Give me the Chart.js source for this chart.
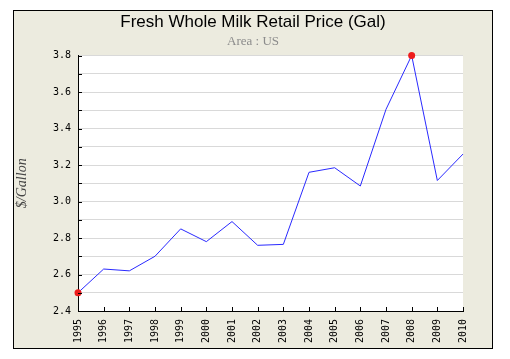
<!DOCTYPE html>
<html>
<head>
<meta charset="utf-8">
<script src="https://cdn.jsdelivr.net/npm/chart.js@4"></script>
<style>
html,body{margin:0;padding:0;background:#fff;}
#frame{position:absolute;left:13px;top:10px;width:478px;height:337px;border:1px solid #000;background:#ECEBDF;}
#frame canvas{display:block;}
</style>
</head>
<body>
<div id="frame"><canvas id="c" width="478" height="337"></canvas></div>
<script>
const years = ['1995','1996','1997','1998','1999','2000','2001','2002','2003','2004','2005','2006','2007','2008','2009','2010'];
const prices = [2.50, 2.63, 2.62, 2.70, 2.85, 2.78, 2.89, 2.76, 2.765, 3.16, 3.185, 3.085, 3.505, 3.80, 3.115, 3.26];
const yMin = 2.4, yMax = 3.8, yStep = 0.1;
const titleText = 'Fresh Whole Milk Retail Price (Gal)';
const subtitleText = 'Area : US';
const yTitle = '$/Gallon';

const maxV = Math.max(...prices), minV = Math.min(...prices);
const isExtreme = ctx => ctx.raw === maxV || ctx.raw === minV;

const areaBg = {
  id: 'areaBg',
  beforeDraw(chart) {
    const {ctx, chartArea: a} = chart;
    ctx.save();
    ctx.fillStyle = '#ffffff';
    ctx.fillRect(a.left, a.top, a.right - a.left, a.bottom - a.top);
    ctx.restore();
  }
};
const innerTicks = {
  id: 'innerTicks',
  afterDatasetsDraw(chart) {
    const {ctx, chartArea: a, scales} = chart;
    ctx.save();
    ctx.strokeStyle = '#000';
    ctx.lineWidth = 1;
    ctx.beginPath();
    scales.y.ticks.forEach((t, i) => {
      const py = Math.round(scales.y.getPixelForTick(i)) + 0.5;
      ctx.moveTo(a.left, py); ctx.lineTo(a.left + 4, py);
    });
    scales.x.ticks.forEach((t, i) => {
      const px = Math.round(scales.x.getPixelForTick(i)) + 0.5;
      ctx.moveTo(px, a.bottom); ctx.lineTo(px, a.bottom - 4);
    });
    ctx.stroke();
    ctx.restore();
  }
};

new Chart(document.getElementById('c'), {
  type: 'line',
  data: {
    labels: years,
    datasets: [{
      data: prices,
      borderColor: '#2a2aff',
      borderWidth: 1,
      tension: 0,
      fill: false,
      pointRadius: ctx => isExtreme(ctx) ? 3.5 : 0,
      pointBackgroundColor: '#ee1c1c',
      pointBorderColor: '#ee1c1c',
      pointBorderWidth: 0,
      clip: false
    }]
  },
  options: {
    responsive: false,
    animation: false,
    events: [],
    layout: {padding: 0},
    plugins: {
      legend: {display: false},
      tooltip: {enabled: false},
      title: {
        display: true, text: titleText, color: '#000',
        font: {family: 'Liberation Sans', size: 17, weight: 'normal', lineHeight: 1.2},
        padding: {top: 1, bottom: 0}
      },
      subtitle: {
        display: true, text: subtitleText, color: '#8c8c8c',
        font: {family: 'Liberation Serif', size: 13, weight: 'normal', lineHeight: 1.2},
        padding: {top: 1.5, bottom: 6}
      }
    },
    scales: {
      x: {
        type: 'category',
        offset: false,
        grid: {display: false, drawTicks: false, drawOnChartArea: false},
        border: {display: true, color: '#000', width: 1},
        ticks: {
          color: '#000', autoSkip: false, maxRotation: 90, minRotation: 90,
          padding: 8,
          font: {family: 'DejaVu Sans Mono', size: 10}
        },
        afterFit(s) { s.height = 37; }
      },
      y: {
        min: yMin, max: yMax,
        grid: {color: '#d9d9d9', lineWidth: 1, drawTicks: false},
        border: {display: true, color: '#000', width: 1},
        ticks: {
          stepSize: yStep, color: '#000', padding: 7,
          font: {family: 'DejaVu Sans Mono', size: 10},
          callback: v => (Math.round(v * 10) % 2 === 0) ? v.toFixed(1) : ''
        },
        title: {
          display: true, text: yTitle, color: '#444',
          font: {family: 'Liberation Serif', size: 14, style: 'italic'},
          padding: {top: 0, bottom: 0}
        },
        afterFit(s) { s.width = 64; }
      },
      yRight: {
        position: 'right',
        min: yMin, max: yMax,
        display: true,
        grid: {display: false, drawOnChartArea: false, drawTicks: false},
        border: {display: false},
        ticks: {display: false},
        afterFit(s) { s.width = 29; }
      }
    }
  },
  plugins: [areaBg, innerTicks]
});
</script>
</body>
</html>
